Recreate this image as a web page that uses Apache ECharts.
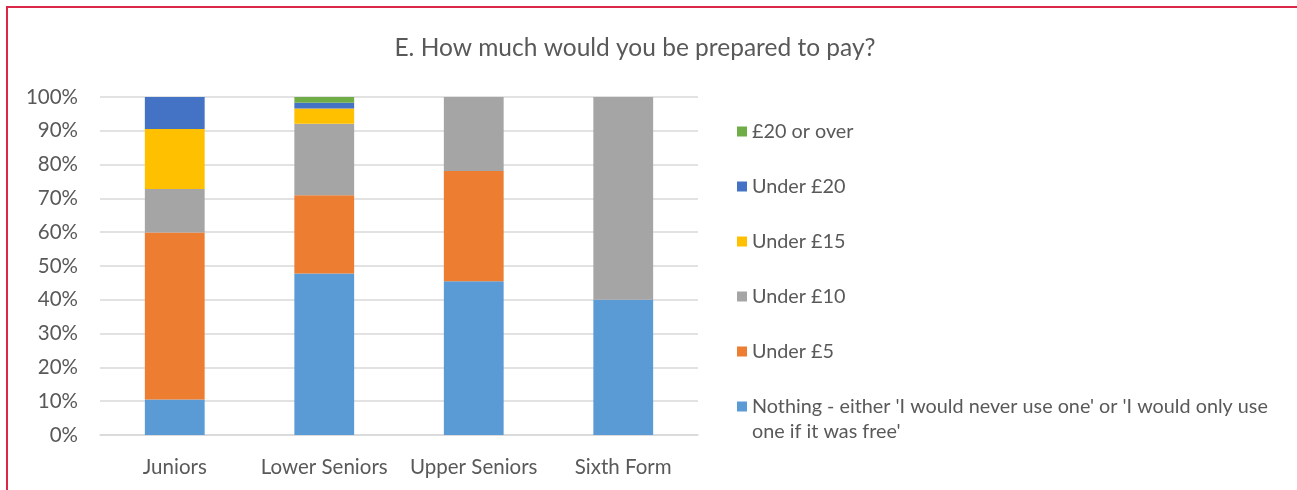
<!DOCTYPE html>
<html>
<head>
<meta charset="utf-8">
<script src="https://cdn.jsdelivr.net/npm/echarts@6/dist/echarts.min.js"></script>
<style>
  html, body { margin: 0; padding: 0; background: #fff; }
  #frame {
    position: absolute;
    left: 6px;
    top: 6px;
    width: 1291px;
    height: 484px;
    border-top: 2px solid #dc2848;
    border-left: 2px solid #dc2848;
  }
  #chart { position: absolute; left: 0; top: 0; width: 1297px; height: 490px; }
</style>
</head>
<body>
<div id="frame"></div>
<div id="chart"></div>
<script>
// categories and stacked shares (%)
const categories = ['Juniors', 'Lower Seniors', 'Upper Seniors', 'Sixth Form']
const nothing = [10.5, 47.8, 45.5, 40]
const under5 = [49.4, 23.1, 32.6, 0]
const under10 = [12.9, 21.2, 21.9, 60]
const under15 = [17.7, 4.5, 0, 0]
const under20 = [9.5, 1.7, 0, 0]
const over20 = [0, 1.7, 0, 0]
const yTicks = [0, 10, 20, 30, 40, 50, 60, 70, 80, 90, 100]

const nothingName = "Nothing - either 'I would never use one' or 'I would only use one if it was free'"

const chart = echarts.init(document.getElementById('chart'))

const makeSeries = (name, data, color) => ({
  name: name,
  type: 'bar',
  stack: 'total',
  barCategoryGap: '60%',
  data: data,
  itemStyle: { color: color },
  emphasis: { disabled: true }
})

const legendText = { fontFamily: 'Lato', fontSize: 19.8, color: '#595959', lineHeight: 25 }

const option = {
  animation: false,
  textStyle: { fontFamily: 'Lato' },
  title: {
    text: 'E. How much would you be prepared to pay?',
    left: 630,
    top: 31,
    textAlign: 'center',
    textStyle: { fontFamily: 'Lato', fontSize: 24.5, fontWeight: 'normal', color: '#595959' }
  },
  legend: [
    {
      orient: 'vertical',
      left: 737,
      top: 119,
      padding: 0,
      itemWidth: 10,
      itemHeight: 10,
      itemGap: 30,
      icon: 'rect',
      textStyle: legendText,
      data: ['£20 or over', 'Under £20', 'Under £15', 'Under £10', 'Under £5']
    },
    {
      // the long entry wraps onto two lines; a blank first line keeps the icon level with the text's first line
      orient: 'vertical',
      left: 737,
      top: 369,
      padding: 0,
      itemWidth: 10,
      itemHeight: 10,
      icon: 'rect',
      textStyle: legendText,
      data: [nothingName],
      formatter: function () {
        return " \nNothing - either 'I would never use one' or 'I would only use\none if it was free'"
      }
    }
  ],
  grid: {
    left: 100,
    right: 599,
    top: 97,
    bottom: 55
  },
  xAxis: {
    type: 'category',
    data: categories,
    axisTick: { show: false },
    axisLine: { lineStyle: { color: '#d9d9d9', width: 1.5 } },
    axisLabel: { fontSize: 20.5, color: '#595959', margin: 22, interval: 0 }
  },
  yAxis: {
    type: 'value',
    min: yTicks[0],
    max: yTicks[yTicks.length - 1],
    interval: 10,
    axisLabel: { fontSize: 20.5, color: '#595959', margin: 22, formatter: '{value}%' },
    splitLine: { lineStyle: { color: '#d9d9d9', width: 1.5 } },
    axisLine: { show: false },
    axisTick: { show: false }
  },
  series: [
    makeSeries(nothingName, nothing, '#5b9bd5'),
    makeSeries('Under £5', under5, '#ed7d31'),
    makeSeries('Under £10', under10, '#a5a5a5'),
    makeSeries('Under £15', under15, '#ffc000'),
    makeSeries('Under £20', under20, '#4472c4'),
    makeSeries('£20 or over', over20, '#70ad47')
  ]
}

chart.setOption(option)
</script>
</body>
</html>
